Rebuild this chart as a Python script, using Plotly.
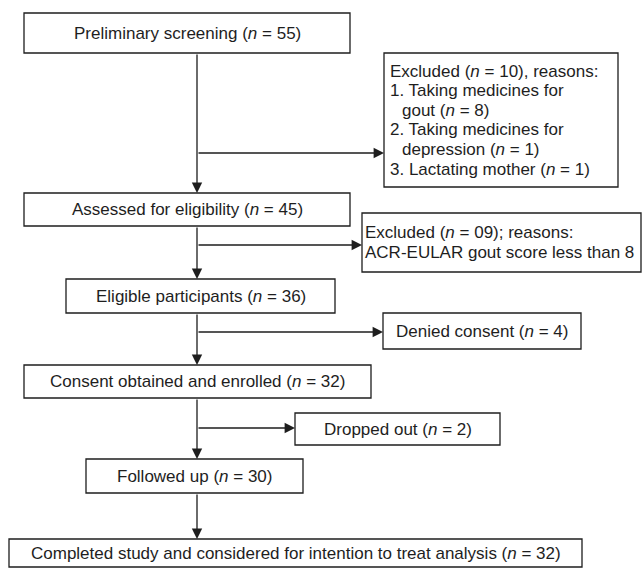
import plotly.graph_objects as go

# ---------------- data ----------------
main_labels = [
    "Preliminary screening",
    "Assessed for eligibility",
    "Eligible participants",
    "Consent obtained and enrolled",
    "Followed up",
    "Completed study and considered for intention to treat analysis",
]
main_counts = [55, 45, 36, 32, 30, 32]

side_labels = ["Excluded", "Excluded", "Denied consent", "Dropped out"]
side_counts = ["10", "09", "4", "2"]
side_suffix = [", reasons:", "; reasons:", "", ""]

excl1_reason_lines = [["Taking medicines for", "gout"],
                      ["Taking medicines for", "depression"],
                      ["Lactating mother"]]
excl1_reason_counts = [8, 1, 1]
excl2_reason = "ACR-EULAR gout score less than 8"

# ---------------- layout geometry (pixels) ----------------
W, H = 642, 568
spine_x = 197
main_boxes = [(24, 350, 13, 53), (24, 350, 193, 226), (66, 335, 279, 313),
              (24, 371, 365, 398), (86, 303, 459, 493), (9, 582, 539, 567)]
side_boxes = [(384, 618, 53, 187), (362, 641, 213, 272),
              (383, 581, 313, 349), (295, 500, 413, 445)]
branch_y = [153, 245, 332, 428]

LINE = "#1e1e1e"
TXT = "#1e1e1e"
FONT = dict(family="Liberation Sans, Arial, sans-serif", size=17, color=TXT)

fig = go.Figure()
shapes = []
annotations = []


def nfmt(v):
    return f"(<i>n</i> = {v})"


# boxes
for (x0, x1, y0, y1) in main_boxes + side_boxes:
    shapes.append(dict(type="rect", x0=x0, x1=x1, y0=y0, y1=y1, xref="x", yref="y",
                       line=dict(color=LINE, width=1.3), fillcolor="white", layer="below"))

# main box texts
for (x0, x1, y0, y1), lab, n in zip(main_boxes, main_labels, main_counts):
    annotations.append(dict(x=(x0 + x1) / 2, y=(y0 + y1) / 2, xref="x", yref="y",
                            text=f"{lab} {nfmt(n)}", showarrow=False, font=FONT,
                            xanchor="center", yanchor="middle"))

# side box 1 (multi-line list)
lines1 = [(f"{side_labels[0]} {nfmt(side_counts[0])}{side_suffix[0]}", 0)]
for i, (parts, c) in enumerate(zip(excl1_reason_lines, excl1_reason_counts)):
    if len(parts) == 1:
        lines1.append((f"{i + 1}. {parts[0]} {nfmt(c)}", 0))
    else:
        lines1.append((f"{i + 1}. {parts[0]}", 0))
        lines1.append((f"{parts[1]} {nfmt(c)}", 1))
x0, x1, y0, y1 = side_boxes[0]
step = 19.6
start = (y0 + y1) / 2 - step * (len(lines1) - 1) / 2
for k, (t, ind) in enumerate(lines1):
    annotations.append(dict(x=x0 + 4 + (12 if ind else 0), y=start + k * step, xref="x", yref="y",
                            text=t, showarrow=False, font=FONT,
                            xanchor="left", yanchor="middle"))

# side box 2
x0, x1, y0, y1 = side_boxes[1]
lines2 = [f"{side_labels[1]} {nfmt(side_counts[1])}{side_suffix[1]}", excl2_reason]
start = (y0 + y1) / 2 - step / 2
for k, t in enumerate(lines2):
    annotations.append(dict(x=x0 + 1, y=start + k * step, xref="x", yref="y",
                            text=t, showarrow=False, font=FONT,
                            xanchor="left", yanchor="middle"))

# side boxes 3, 4
for j in (2, 3):
    x0, x1, y0, y1 = side_boxes[j]
    annotations.append(dict(x=(x0 + x1) / 2, y=(y0 + y1) / 2, xref="x", yref="y",
                            text=f"{side_labels[j]} {nfmt(side_counts[j])}", showarrow=False,
                            font=FONT, xanchor="center", yanchor="middle"))


def arrow(tx, ty, fx, fy):
    annotations.append(dict(x=tx, y=ty, ax=fx, ay=fy, xref="x", yref="y", axref="x", ayref="y",
                            text="", showarrow=True, arrowhead=2, arrowsize=1.6, arrowwidth=1.3,
                            arrowcolor=LINE, standoff=0, startstandoff=0))


# spine arrows
for a, b in zip(main_boxes[:-1], main_boxes[1:]):
    arrow(spine_x, b[2], spine_x, a[3])

# branch arrows
for yb, sb in zip(branch_y, side_boxes):
    arrow(sb[0], yb, spine_x, yb)

fig.update_layout(
    width=W, height=H, margin=dict(l=0, r=0, t=0, b=0),
    paper_bgcolor="white", plot_bgcolor="white",
    xaxis=dict(range=[0, W], visible=False, fixedrange=True),
    yaxis=dict(range=[H, 0], visible=False, fixedrange=True),
    shapes=shapes, annotations=annotations, showlegend=False,
)
fig.write_html("out.html", config={"displayModeBar": False},
               post_script="document.body.style.margin='0';document.body.style.overflow='hidden';")
